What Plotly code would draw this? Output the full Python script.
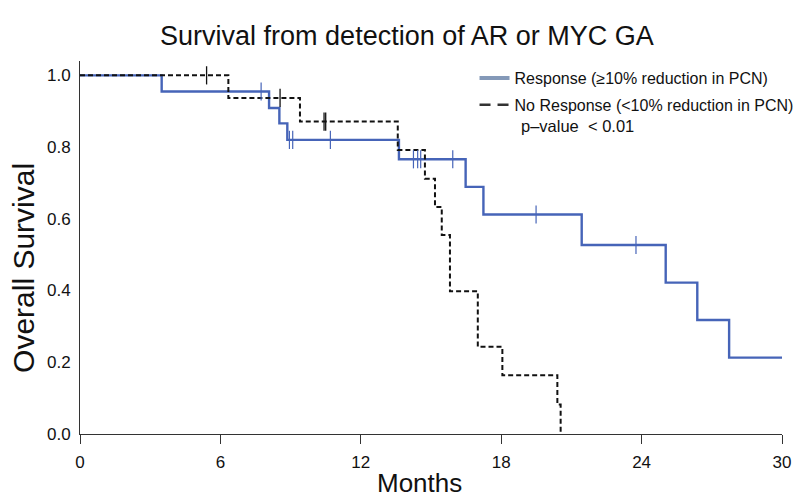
import plotly.graph_objects as go

# ---- data ----
resp_times = [0, 3.49, 8.08, 8.52, 8.86, 13.63, 16.48, 17.24, 21.44, 25.03, 26.38, 27.74]
resp_surv = [1.0, 0.955, 0.909, 0.866, 0.820, 0.766, 0.689, 0.612, 0.527, 0.422, 0.318, 0.213]
resp_end = 30.0
resp_censor = [7.74, 8.95, 9.09, 10.7, 14.25, 14.43, 14.56, 15.93, 19.49, 23.76]

nonresp_times = [0, 6.34, 9.40, 13.58, 14.74, 15.17, 15.46, 15.81, 17.0, 18.05, 20.40, 20.54]
nonresp_surv = [1.0, 0.937, 0.871, 0.792, 0.712, 0.633, 0.555, 0.398, 0.243, 0.164, 0.082, 0.0]
nonresp_censor = [5.41, 8.55, 10.43, 10.5]

x_ticks = [0, 6, 12, 18, 24, 30]
y_ticks = [0.0, 0.2, 0.4, 0.6, 0.8, 1.0]

title = "Survival from detection of AR or MYC GA"
resp_name = "Response (\u226510% reduction in PCN)"
nonresp_name = "No Response (<10% reduction in PCN)"
pvalue_text = "p\u2013value  < 0.01"
x_title = "Months"
y_title = "Overall Survival"

BLUE = "#4664b8"
LEGEND_BLUE = "#8499b8"
BLACK = "#111111"
FONT = "Liberation Sans, Arial, sans-serif"


def surv_at(times, surv, t):
    s = surv[0]
    for ti, si in zip(times, surv):
        if ti <= t:
            s = si
    return s


fig = go.Figure()

# Response curve
fig.add_trace(go.Scatter(
    x=resp_times + [resp_end], y=resp_surv + [resp_surv[-1]],
    mode="lines", line=dict(color=BLUE, width=2.4, shape="hv"),
    showlegend=False, hoverinfo="skip"))
# No response curve
fig.add_trace(go.Scatter(
    x=nonresp_times, y=nonresp_surv,
    mode="lines", line=dict(color=BLACK, width=2, shape="hv", dash="5px,3px"),
    showlegend=False, hoverinfo="skip"))

# censor marks
fig.add_trace(go.Scatter(
    x=resp_censor, y=[surv_at(resp_times, resp_surv, t) for t in resp_censor],
    mode="markers",
    marker=dict(symbol="line-ns", size=13, line=dict(color=BLUE, width=1.2)),
    showlegend=False, hoverinfo="skip"))
fig.add_trace(go.Scatter(
    x=nonresp_censor, y=[surv_at(nonresp_times, nonresp_surv, t) for t in nonresp_censor],
    mode="markers",
    marker=dict(symbol="line-ns", size=13, line=dict(color=BLACK, width=1.3)),
    showlegend=False, hoverinfo="skip"))

# legend-only entries
fig.add_trace(go.Scatter(
    x=[None], y=[None], mode="lines", name=resp_name, legendgroup="a",
    line=dict(color=LEGEND_BLUE, width=4)))
fig.add_trace(go.Scatter(
    x=[None], y=[None], mode="lines", name=nonresp_name, legendgroup="b",
    line=dict(color="#333333", width=2.5, dash="11px,7px")))

fig.add_annotation(
    text=pvalue_text, xref="paper", yref="paper", x=0.626, y=0.826,
    xanchor="left", yanchor="middle", showarrow=False,
    font=dict(family=FONT, size=16.5, color="#111111"))

# axis titles
fig.add_annotation(
    text=x_title, xref="paper", yref="paper", x=0.4836, y=-0.132,
    xanchor="center", yanchor="middle", showarrow=False,
    font=dict(family=FONT, size=26, color="#111111"))
fig.add_annotation(
    text=y_title, xref="paper", yref="paper", x=-0.0813, y=0.445,
    xanchor="center", yanchor="middle", showarrow=False, textangle=-90,
    font=dict(family=FONT, size=30, color="#111111"))

fig.update_layout(
    width=801, height=503,
    margin=dict(l=80, r=19, t=61, b=69, autoexpand=False),
    paper_bgcolor="white", plot_bgcolor="white",
    title=dict(text=title, x=0.508, xanchor="center", y=0.930, yanchor="middle",
               font=dict(family=FONT, size=27, color="#111111")),
    font=dict(family=FONT, color="#111111"),
    legend=dict(x=0.562, y=1.0, xanchor="left", yanchor="top",
                bgcolor="rgba(0,0,0,0)", font=dict(family=FONT, size=16, color="#111111"),
                tracegroupgap=3, itemwidth=30),
    xaxis=dict(range=[0, 30], tickvals=x_ticks, ticktext=[str(v) for v in x_ticks],
               showgrid=False, zeroline=False, showline=True, linecolor="#333333",
               linewidth=1, ticks="outside", ticklen=9, tickcolor="#333333",
               ticklabelstandoff=4,
               tickfont=dict(family=FONT, size=17, color="#111111")),
    yaxis=dict(range=[0, 1.04], tickvals=y_ticks, ticktext=[f"{v:.1f}" for v in y_ticks],
               showgrid=False, zeroline=False, showline=True, linecolor="#333333",
               linewidth=1, ticks="", ticklabelstandoff=5,
               tickfont=dict(family=FONT, size=17, color="#111111")),
)

fig.write_html("out.html")
